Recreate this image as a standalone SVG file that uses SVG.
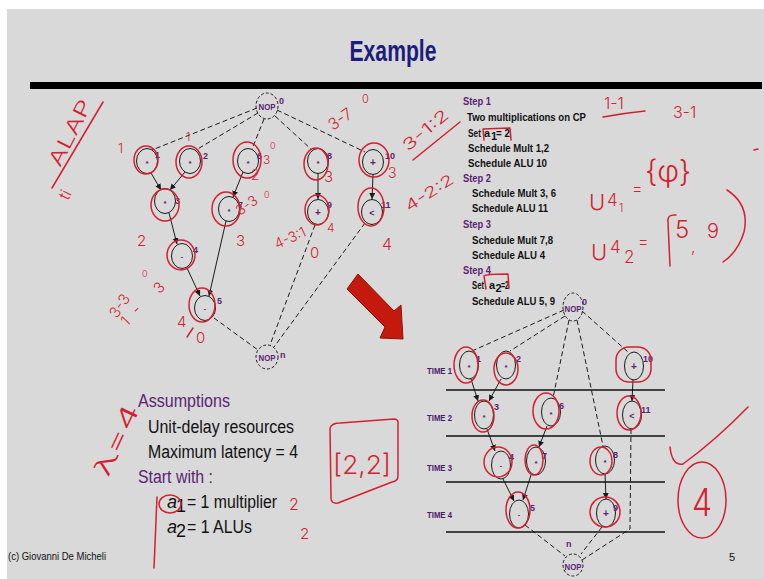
<svg xmlns="http://www.w3.org/2000/svg" width="764" height="579" viewBox="0 0 764 579">
<defs>
<marker id="ah" markerUnits="userSpaceOnUse" markerWidth="7" markerHeight="7" refX="6" refY="3" orient="auto"><path d="M0,0 L6,3 L0,6 z" fill="#1a1a1a"/></marker>
<style>
.nd{fill:none;stroke:#1a1a1a;stroke-width:1}
.nop{fill:none;stroke:#1a1a1a;stroke-width:1;stroke-dasharray:3 2}
.op{font-family:"Liberation Sans",sans-serif;font-weight:bold;fill:#5b1f73;text-anchor:middle}
.lb{font-family:"Liberation Sans Narrow","Liberation Sans",sans-serif;font-weight:bold;font-size:9px;fill:#5b1f73}
.np{font-family:"Liberation Sans Narrow","Liberation Sans",sans-serif;font-weight:bold;font-size:8.5px;fill:#5b1f73;text-anchor:middle}
.e{fill:none;stroke:#1a1a1a;stroke-width:1}
.d{stroke-dasharray:5 3}
.rl{stroke:#111;stroke-width:1.3}
.rd{fill:none;stroke:#d41f30;stroke-width:1.5;stroke-linecap:round;stroke-linejoin:round}
.hw{font-family:Inter,"Open Sans","Liberation Sans",sans-serif;font-weight:300;fill:#d41f30}
.st{font-family:"Liberation Sans Narrow","Liberation Sans",sans-serif;font-weight:bold;font-size:11px;fill:#111}
.as{font-family:"Liberation Sans Narrow","Liberation Sans",sans-serif;font-size:18px;fill:#111}
.tm{font-family:"Liberation Sans Narrow","Liberation Sans",sans-serif;font-weight:bold;font-size:9px;fill:#4a1a6a}
.pu{fill:#5b1f73}
</style>
</defs>
<rect width="764" height="579" fill="#ffffff"/>
<rect x="7" y="9" width="757" height="570" fill="#d9d9d9"/>
<text x="393" y="61" text-anchor="middle" font-family="Liberation Sans Narrow,Liberation Sans,sans-serif" font-weight="bold" font-size="30" fill="#1c1c7c" textLength="87" lengthAdjust="spacingAndGlyphs">Example</text>
<rect x="30" y="82" width="732" height="7" fill="#000"/>

<!-- Step text -->
<g id="steps">
<text class="st pu" x="463" y="105" textLength="28" lengthAdjust="spacingAndGlyphs">Step 1</text>
<text class="st" x="467" y="121" textLength="119" lengthAdjust="spacingAndGlyphs">Two multiplications on CP</text>
<text class="st" x="468" y="137" textLength="13" lengthAdjust="spacingAndGlyphs">Set</text>
<text class="st" x="484" y="137">a</text>
<text class="st" x="491" y="140" font-size="6">1</text>
<text class="st" x="496" y="137" textLength="14" lengthAdjust="spacingAndGlyphs">= 2</text>
<text class="st" x="468" y="152" textLength="81" lengthAdjust="spacingAndGlyphs">Schedule Mult 1,2</text>
<text class="st" x="468" y="167" textLength="79" lengthAdjust="spacingAndGlyphs">Schedule ALU 10</text>
<text class="st pu" x="463" y="182" textLength="28" lengthAdjust="spacingAndGlyphs">Step 2</text>
<text class="st" x="472" y="197" textLength="84" lengthAdjust="spacingAndGlyphs">Schedule Mult 3, 6</text>
<text class="st" x="472" y="212" textLength="76" lengthAdjust="spacingAndGlyphs">Schedule ALU 11</text>
<text class="st pu" x="463" y="228" textLength="28" lengthAdjust="spacingAndGlyphs">Step 3</text>
<text class="st" x="472" y="244" textLength="81" lengthAdjust="spacingAndGlyphs">Schedule Mult 7,8</text>
<text class="st" x="472" y="259" textLength="73" lengthAdjust="spacingAndGlyphs">Schedule ALU 4</text>
<text class="st pu" x="463" y="274" textLength="28" lengthAdjust="spacingAndGlyphs">Step 4</text>
<text class="st" x="472" y="289" font-size="10" textLength="12" lengthAdjust="spacingAndGlyphs">Set</text>
<text class="st" x="489" y="289" font-size="10.5">a</text>
<text class="st" x="495.5" y="292" font-size="6">2</text>
<text class="st" x="501" y="289" textLength="8" lengthAdjust="spacingAndGlyphs">=2</text>
<text class="st" x="472" y="305" textLength="83" lengthAdjust="spacingAndGlyphs">Schedule ALU 5, 9</text>
</g>

<!-- Assumptions -->
<g id="assumptions">
<text class="as pu" x="138" y="407" textLength="92" lengthAdjust="spacingAndGlyphs">Assumptions</text>
<text class="as" x="148" y="433" font-size="17" textLength="146" lengthAdjust="spacingAndGlyphs">Unit-delay resources</text>
<text class="as" x="148" y="458" font-size="17" textLength="150" lengthAdjust="spacingAndGlyphs">Maximum latency = 4</text>
<text class="as pu" x="138" y="483" textLength="75" lengthAdjust="spacingAndGlyphs">Start with :</text>
<text class="as" x="167" y="508" font-size="17" font-style="italic">a</text>
<text class="as" x="176" y="512" font-size="11">1</text>
<text class="as" x="187" y="508" font-size="17" textLength="90" lengthAdjust="spacingAndGlyphs">= 1 multiplier</text>
<text class="as" x="167" y="533" font-size="17" font-style="italic">a</text>
<text class="as" x="176" y="537" font-size="11">2</text>
<text class="as" x="187" y="533" font-size="17" textLength="65" lengthAdjust="spacingAndGlyphs">= 1 ALUs</text>
<text x="8" y="560" font-family="Liberation Sans Narrow,Liberation Sans,sans-serif" font-size="11" fill="#111" textLength="98" lengthAdjust="spacingAndGlyphs">(c)  Giovanni De Micheli</text>
<text x="729" y="561" font-family="Liberation Sans Narrow,Liberation Sans,sans-serif" font-size="11" fill="#111">5</text>
</g>

<!-- red block arrow -->
<polygon points="347,289 358,274 394,311 401,305 403,339 380,338 385,327" fill="#c41a0e" stroke="#8e1208" stroke-width="1"/>

<!-- Connectors -->
<g id="connectors">
<path class="e d" d="M257,108 L152,150"/>
<path class="e d" d="M258,113 L196,150"/>
<path class="e d" d="M264,119 L252,149"/>
<path class="e d" d="M275,116 L312,150"/>
<path class="e d" d="M277,110 L365,152"/>
<path class="e" d="M151,173 L161,190" marker-end="url(#ah)"/>
<path class="e" d="M185,172 L170,190" marker-end="url(#ah)"/>
<path class="e" d="M169,213 L177,244" marker-end="url(#ah)"/>
<path class="e" d="M243,172 L233,197" marker-end="url(#ah)"/>
<path class="e" d="M187,268 L200,296" marker-end="url(#ah)"/>
<path class="e" d="M226,221 L209,296" marker-end="url(#ah)"/>
<path class="e" d="M318,174 L318,199" marker-end="url(#ah)"/>
<path class="e" d="M373,175 L372,199" marker-end="url(#ah)"/>
<path class="e d" d="M214,318 L258,350"/>
<path class="e d" d="M315,225 L270,345"/>
<path class="e d" d="M365,223 L274,347"/>
<path class="e d" d="M564,310 L472,351"/>
<path class="e d" d="M565,316 L510,351"/>
<path class="e d" d="M569,320 L553,398"/>
<path class="e d" d="M577,320 L603,446"/>
<path class="e d" d="M582,311 L628,352"/>
<path class="e" d="M471,379 L478,401" marker-end="url(#ah)"/>
<path class="e" d="M501,379 L489,401" marker-end="url(#ah)"/>
<path class="e" d="M487,429 L495,451" marker-end="url(#ah)"/>
<path class="e" d="M547,426 L539,447" marker-end="url(#ah)"/>
<path class="e" d="M503,479 L514,501" marker-end="url(#ah)"/>
<path class="e" d="M531,475 L523,500" marker-end="url(#ah)"/>
<path class="e" d="M605,474 L606,499" marker-end="url(#ah)"/>
<path class="e" d="M633,380 L632,401" marker-end="url(#ah)"/>
<path class="e d" d="M525,525 L565,556"/>
<path class="e d" d="M602,527 L581,554"/>
<path class="e d" d="M631,429 L630,529 L582,560"/>
<path class="rl" d="M446,390 H665 M446,436 H665 M446,482 H665 M446,532 H665"/>
</g>

<g id="timelabels">
<text class="tm" x="427" y="374" textLength="25" lengthAdjust="spacingAndGlyphs">TIME 1</text>
<text class="tm" x="427" y="421" textLength="25" lengthAdjust="spacingAndGlyphs">TIME 2</text>
<text class="tm" x="427" y="471" textLength="25" lengthAdjust="spacingAndGlyphs">TIME 3</text>
<text class="tm" x="427" y="518" textLength="25" lengthAdjust="spacingAndGlyphs">TIME 4</text>
</g>

<!-- Left graph nodes -->
<g id="L0"><ellipse class="nop" cx="267" cy="106" rx="11" ry="13"/><text class="np" x="267" y="110" textLength="17" lengthAdjust="spacingAndGlyphs">NOP</text><text class="lb" x="279" y="104">0</text></g>
<g id="L1"><ellipse class="nd" cx="147" cy="161" rx="10.5" ry="12.5"/><text class="op" x="147" y="165.5" font-size="8">*</text><text class="lb" x="155" y="158">1</text></g>
<g id="L2"><ellipse class="nd" cx="190" cy="161" rx="10.5" ry="12.5"/><text class="op" x="190" y="165.5" font-size="8">*</text><text class="lb" x="203" y="159">2</text></g>
<g id="L6"><ellipse class="nd" cx="248" cy="161" rx="10.5" ry="12.5"/><text class="op" x="248" y="165.5" font-size="8">*</text><text class="lb" x="257" y="159">6</text></g>
<g id="L8"><ellipse class="nd" cx="318" cy="161" rx="10.5" ry="12.5"/><text class="op" x="318" y="165.5" font-size="8">*</text><text class="lb" x="327" y="159">8</text></g>
<g id="L10"><ellipse class="nd" cx="373" cy="162" rx="10.5" ry="12.5"/><text class="op" x="373" y="165.5" font-size="10">+</text><text class="lb" x="385" y="159">10</text></g>
<g id="L3"><ellipse class="nd" cx="165" cy="201" rx="10.5" ry="12.5"/><text class="op" x="165" y="205.5" font-size="8">*</text><text class="lb" x="175" y="204">3</text></g>
<g id="L7"><ellipse class="nd" cx="229" cy="209" rx="10.5" ry="12.5"/><text class="op" x="229" y="213.5" font-size="8">*</text><text class="lb" x="238" y="208">7</text></g>
<g id="L9"><ellipse class="nd" cx="318" cy="212" rx="10.5" ry="12.5"/><text class="op" x="318" y="215.5" font-size="10">+</text><text class="lb" x="327" y="208">9</text></g>
<g id="L11"><ellipse class="nd" cx="372" cy="212" rx="10.5" ry="12.5"/><text class="op" x="372" y="215.5" font-size="9">&lt;</text><text class="lb" x="381" y="208">11</text></g>
<g id="L4"><ellipse class="nd" cx="182" cy="256" rx="10.5" ry="12.5"/><text class="op" x="182" y="258.5" font-size="7">-</text><text class="lb" x="193" y="253">4</text></g>
<g id="L5"><ellipse class="nd" cx="205" cy="308" rx="10.5" ry="12.5"/><text class="op" x="205" y="310.5" font-size="7">-</text><text class="lb" x="217" y="304">5</text></g>
<g id="Ln"><ellipse class="nop" cx="267" cy="357" rx="11" ry="12"/><text class="np" x="267" y="361" textLength="17" lengthAdjust="spacingAndGlyphs">NOP</text><text class="lb" x="280" y="358">n</text></g>

<!-- Right graph nodes -->
<g id="R0"><ellipse class="nop" cx="573" cy="307" rx="10" ry="14"/><text class="np" x="573" y="312" textLength="17" lengthAdjust="spacingAndGlyphs">NOP</text><text class="lb" x="582" y="305">0</text></g>
<g id="R1"><ellipse class="nd" cx="469" cy="365" rx="9.5" ry="14"/><text class="op" x="469" y="369.5" font-size="8">*</text><text class="lb" x="476" y="362">1</text></g>
<g id="R2"><ellipse class="nd" cx="506" cy="365" rx="9.5" ry="14"/><text class="op" x="506" y="369.5" font-size="8">*</text><text class="lb" x="516" y="362">2</text></g>
<g id="R10"><ellipse class="nd" cx="634" cy="366" rx="9.5" ry="14"/><text class="op" x="634" y="369.5" font-size="10">+</text><text class="lb" x="643" y="362">10</text></g>
<g id="R3"><ellipse class="nd" cx="484" cy="415" rx="9.5" ry="14"/><text class="op" x="484" y="419.5" font-size="8">*</text><text class="lb" x="494" y="410">3</text></g>
<g id="R6"><ellipse class="nd" cx="551" cy="412" rx="9.5" ry="14"/><text class="op" x="551" y="416.5" font-size="8">*</text><text class="lb" x="559" y="409">6</text></g>
<g id="R11"><ellipse class="nd" cx="632" cy="415" rx="9.5" ry="14"/><text class="op" x="632" y="418.5" font-size="9">&lt;</text><text class="lb" x="641" y="413">11</text></g>
<g id="R4"><ellipse class="nd" cx="501" cy="465" rx="9.5" ry="14"/><text class="op" x="501" y="467.5" font-size="7">-</text><text class="lb" x="509" y="460">4</text></g>
<g id="R7"><ellipse class="nd" cx="536" cy="461" rx="9.5" ry="14"/><text class="op" x="536" y="465.5" font-size="8">*</text><text class="lb" x="542" y="459">7</text></g>
<g id="R8"><ellipse class="nd" cx="605" cy="460" rx="9.5" ry="14"/><text class="op" x="605" y="464.5" font-size="8">*</text><text class="lb" x="613" y="458">8</text></g>
<g id="R5"><ellipse class="nd" cx="519" cy="514" rx="9.5" ry="14"/><text class="op" x="519" y="516.5" font-size="7">-</text><text class="lb" x="530" y="511">5</text></g>
<g id="R9"><ellipse class="nd" cx="606" cy="513" rx="9.5" ry="14"/><text class="op" x="606" y="516.5" font-size="10">+</text><text class="lb" x="613" y="511">9</text></g>
<g id="Rn"><ellipse class="nop" cx="573" cy="565" rx="10" ry="11"/><text class="np" x="573" y="570" textLength="17" lengthAdjust="spacingAndGlyphs">NOP</text><text class="lb" x="566" y="547">n</text></g>

<!-- Handwritten annotations -->
<g id="ink">
<ellipse class="rd" cx="146" cy="160" rx="12" ry="14"/>
<ellipse class="rd" cx="189" cy="162" rx="13" ry="16"/>
<ellipse class="rd" cx="247" cy="160" rx="14" ry="18"/>
<ellipse class="rd" cx="316" cy="164" rx="12" ry="16"/>
<ellipse class="rd" cx="374" cy="160" rx="15" ry="17"/>
<ellipse class="rd" cx="165" cy="205" rx="14" ry="16"/>
<ellipse class="rd" cx="226" cy="209" rx="14" ry="17"/>
<ellipse class="rd" cx="317" cy="210" rx="12" ry="15"/>
<ellipse class="rd" cx="371" cy="207" rx="13" ry="19"/>
<ellipse class="rd" cx="181" cy="255" rx="14" ry="15"/>
<ellipse class="rd" cx="202" cy="305" rx="13" ry="17"/>
<ellipse class="rd" cx="466" cy="365" rx="12" ry="18"/>
<ellipse class="rd" cx="506" cy="369" rx="12" ry="16"/>
<rect class="rd" x="616" y="347" width="35" height="35" rx="13"/>
<ellipse class="rd" cx="483" cy="416" rx="11" ry="16"/>
<ellipse class="rd" cx="546" cy="411" rx="13" ry="18"/>
<ellipse class="rd" cx="629" cy="413" rx="12" ry="17"/>
<ellipse class="rd" cx="498" cy="462" rx="14" ry="15"/>
<ellipse class="rd" cx="534" cy="460" rx="9" ry="15"/>
<ellipse class="rd" cx="601" cy="461" rx="11" ry="14"/>
<ellipse class="rd" cx="518" cy="510" rx="12" ry="18"/>
<ellipse class="rd" cx="605" cy="512" rx="15" ry="15"/>
<text class="hw" transform="translate(60,168) rotate(-63)" font-size="20" textLength="72" lengthAdjust="spacingAndGlyphs">ALAP</text>
<path class="rd" d="M52,188 L103,102"/>
<text class="hw" transform="translate(68,201) rotate(-63)" font-size="16">ti</text>
<text class="hw" x="118" y="153" font-size="13">1</text>
<text class="hw" x="186" y="141" font-size="11">1</text>
<text class="hw" x="263" y="164" font-size="12">3</text>
<text class="hw" x="270" y="149" font-size="9">0</text>
<text class="hw" x="251" y="180" font-size="14">2</text>
<text class="hw" transform="translate(333,131) rotate(-35)" font-size="16">3-7</text>
<text class="hw" x="362" y="103" font-size="11">0</text>
<text class="hw" x="324" y="182" font-size="15">3</text>
<text class="hw" x="388" y="178" font-size="14">3</text>
<text class="hw" transform="translate(240,216) rotate(-35)" font-size="14">3-3</text>
<text class="hw" x="264" y="198" font-size="9">0</text>
<text class="hw" x="236" y="246" font-size="15">3</text>
<text class="hw" x="137" y="246" font-size="15">2</text>
<text class="hw" transform="translate(277,249) rotate(-24)" font-size="14">4-3:1</text>
<text class="hw" x="327" y="232" font-size="12">4</text>
<text class="hw" x="310" y="258" font-size="15">0</text>
<text class="hw" x="382" y="250" font-size="16">4</text>
<text class="hw" transform="translate(117,319) rotate(-56)" font-size="15">3-3</text>
<text class="hw" x="142" y="277" font-size="9">0</text>
<text class="hw" transform="translate(127,327) rotate(-45)" font-size="15" textLength="55" lengthAdjust="spacing">1-  3</text>
<text class="hw" x="177" y="327" font-size="15">4</text>
<path class="rd" d="M187,337 L193,328"/>
<text class="hw" x="196" y="343" font-size="15">0</text>
<text class="hw" transform="translate(408,152) rotate(-40)" font-size="16" textLength="55" lengthAdjust="spacingAndGlyphs">3-1:2</text>
<path class="rd" d="M413,160 L460,122"/>
<text class="hw" transform="translate(409,212) rotate(-33)" font-size="15" textLength="55" lengthAdjust="spacingAndGlyphs">4-2:2</text>
<path class="rd" d="M484,140 L483,129 L510,128 L511,140"/>
<path class="rd" d="M486,289 L484,276 Q485,274 508,274 L509,288"/>
<text class="hw" x="604" y="109" font-size="16">1-1</text>
<path class="rd" d="M603,117 Q625,113 645,111"/>
<text class="hw" x="673" y="118" font-size="16">3-1</text>
<text class="hw" x="589" y="210" font-size="22">U</text>
<text class="hw" x="607" y="206" font-size="17">4</text>
<text class="hw" x="619" y="212" font-size="11">1</text>
<text class="hw" x="632" y="194" font-size="16">=</text>
<text class="hw" x="645" y="182" font-size="30">{φ}</text>
<text class="hw" x="591" y="260" font-size="22">U</text>
<text class="hw" x="610" y="253" font-size="17">4</text>
<text class="hw" x="624" y="263" font-size="17">2</text>
<text class="hw" x="638" y="247" font-size="16">=</text>
<path class="rd" d="M676,215 Q667,214 668,222 L670,266"/>
<text class="hw" x="675" y="238" font-size="24">5</text>
<text class="hw" x="691" y="252" font-size="16">,</text>
<text class="hw" x="707" y="238" font-size="20">9</text>
<path class="rd" d="M727,190 Q750,205 744,232 Q738,252 723,262"/>
<path class="rd" d="M754,150 L758,149"/>
<text class="hw" transform="translate(108,478) rotate(-65)" font-size="24" textLength="76" lengthAdjust="spacingAndGlyphs">λ=4</text>
<path class="rd" d="M330,428 Q332,423 340,423 L394,419 Q399,419 398,425 L398,476 Q398,481 392,482 L338,503 Q331,504 331,498 Z"/>
<text class="hw" x="333" y="474" font-size="26" textLength="58" lengthAdjust="spacingAndGlyphs">[2,2]</text>
<text class="hw" x="289" y="510" font-size="16">2</text>
<text class="hw" x="300" y="539" font-size="15">2</text>
<ellipse class="rd" cx="170" cy="504" rx="11" ry="9"/>
<path class="rd" d="M157,497 L154,568"/>
<path class="rd" d="M670,447 Q672,466 683,464 Q716,440 748,407"/>
<ellipse class="rd" cx="702" cy="500" rx="24" ry="38"/>
<text class="hw" x="692" y="516" font-size="38" textLength="20" lengthAdjust="spacingAndGlyphs">4</text>
</g>
</svg>
